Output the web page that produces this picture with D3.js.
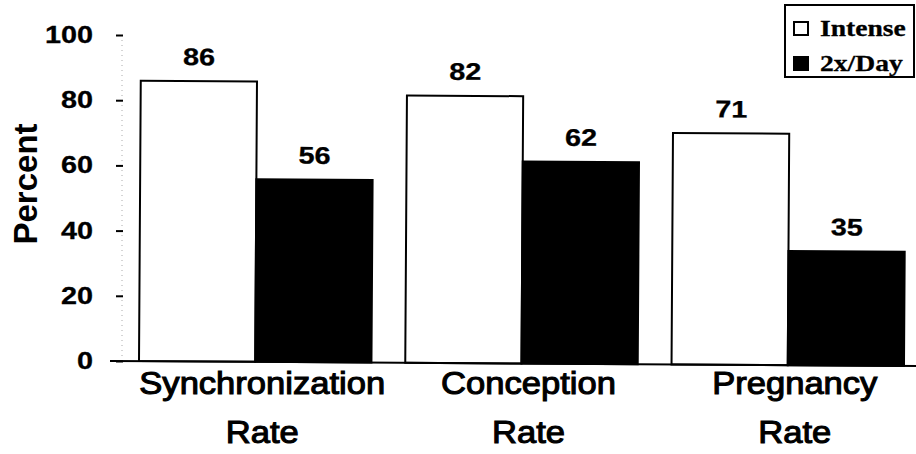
<!DOCTYPE html>
<html>
<head>
<meta charset="utf-8">
<script src="https://cdn.jsdelivr.net/npm/d3@7"></script>
<style>
  html, body { margin: 0; padding: 0; background: #ffffff; }
  svg { display: block; }
</style>
</head>
<body>
<svg id="chart" width="916" height="454"></svg>
<script>
// Data
const categories = [["Synchronization", "Rate"], ["Conception", "Rate"], ["Pregnancy", "Rate"]];
const seriesNames = ["Intense", "2x/Day"];
const intenseValues = [86, 82, 71];
const twiceDailyValues = [56, 62, 35];
const yTicks = [0, 20, 40, 60, 80, 100];

const rows = categories.map((c, i) => ({
  key: c.join(" "),
  lines: c,
  values: [intenseValues[i], twiceDailyValues[i]]
}));

const svg = d3.select("#chart");
const sans = "'Liberation Sans', Arial, Helvetica, sans-serif";
const serif = "'Liberation Serif', 'Times New Roman', serif";

const y = d3.scaleLinear().domain([0, 100]).range([361, 35]);
const x0 = d3.scaleBand().domain(rows.map(d => d.key)).range([139, 904])
  .paddingInner(0.127).paddingOuter(0);
const x1 = d3.scaleBand().domain(seriesNames).range([0, x0.bandwidth()]).padding(0);
const fills = d3.scaleOrdinal().domain(seriesNames).range(["#ffffff", "#000000"]);

// text with a horizontal stretch about its anchor point
function wideText(parent, tx, ty, sx, str, opts) {
  const g = parent.append("g").attr("transform", `translate(${tx},${ty}) scale(${sx},1)`);
  const t = g.append("text")
    .attr("text-anchor", opts.anchor || "middle")
    .attr("font-family", opts.family || sans)
    .attr("font-size", opts.size)
    .attr("font-weight", opts.weight || "bold")
    .attr("fill", "#000")
    .text(str);
  if (opts.stroke) t.attr("stroke", "#000").attr("stroke-width", opts.stroke);
  return g;
}

// y axis: faint dotted spine, short ticks
svg.append("line")
  .attr("x1", 122).attr("x2", 122)
  .attr("y1", y(100)).attr("y2", y(0))
  .attr("stroke", "#aaa").attr("stroke-width", 1).attr("stroke-dasharray", "1,4");

const yAxis = svg.append("g").attr("transform", "translate(123,0)")
  .call(d3.axisLeft(y).tickValues(yTicks).tickSize(7).tickFormat(""));
yAxis.select(".domain").remove();
yAxis.selectAll(".tick line").attr("stroke", "#000").attr("stroke-width", 2);

yTicks.forEach(v => {
  wideText(svg, 93, y(v) + 8, 1.2, d3.format("d")(v), { size: 24, anchor: "end", stroke: 0.3 });
});

// y title
svg.append("text")
  .attr("transform", `translate(37,184) rotate(-90)`)
  .attr("text-anchor", "middle")
  .attr("font-family", sans).attr("font-size", 33).attr("font-weight", "bold")
  .attr("fill", "#000")
  .text("Percent");

// plot body (bars, baseline, value labels) sits on a slight tilt
const plot = svg.append("g").attr("transform", `rotate(0.36, 120, ${y(0)})`);

const groups = plot.selectAll("g.grp").data(rows).join("g")
  .attr("class", "grp")
  .attr("transform", d => `translate(${x0(d.key)},0)`);

groups.selectAll("rect").data(d => d.values.map((v, i) => ({ s: seriesNames[i], v })))
  .join("rect")
  .attr("x", d => x1(d.s))
  .attr("y", d => y(d.v))
  .attr("width", x1.bandwidth())
  .attr("height", d => y(0) - y(d.v))
  .attr("fill", d => fills(d.s))
  .attr("stroke", "#000").attr("stroke-width", 2);

groups.each(function (d) {
  const g = d3.select(this);
  d.values.forEach((v, i) => {
    wideText(g, x1(seriesNames[i]) + x1.bandwidth() / 2, y(v) - 16, 1.2, String(v), { size: 24, stroke: 0.3 });
  });
});

plot.append("line")
  .attr("x1", 110).attr("x2", 916)
  .attr("y1", y(0)).attr("y2", y(0))
  .attr("stroke", "#000").attr("stroke-width", 2);

// category labels
rows.forEach(d => {
  const cx = x0(d.key) + x0.bandwidth() / 2 + 7;
  d.lines.forEach((ln, j) => {
    wideText(svg, cx, 394 + j * 49, 1.08, ln, { size: 32, weight: "normal", stroke: 1.1 });
  });
});

// legend
const legend = svg.append("g");
legend.append("rect")
  .attr("x", 785).attr("y", 5).attr("width", 129).attr("height", 72)
  .attr("fill", "#fff").attr("stroke", "#000").attr("stroke-width", 2);

seriesNames.forEach((name, i) => {
  const ly = 22 + i * 35;
  legend.append("rect")
    .attr("x", 794).attr("y", ly).attr("width", 14).attr("height", 13)
    .attr("fill", fills(name)).attr("stroke", "#000").attr("stroke-width", 2);
  wideText(legend, 820, ly + 14, 1.15, name, { size: 24, anchor: "start", family: serif, stroke: 0.3 });
});
</script>
</body>
</html>
